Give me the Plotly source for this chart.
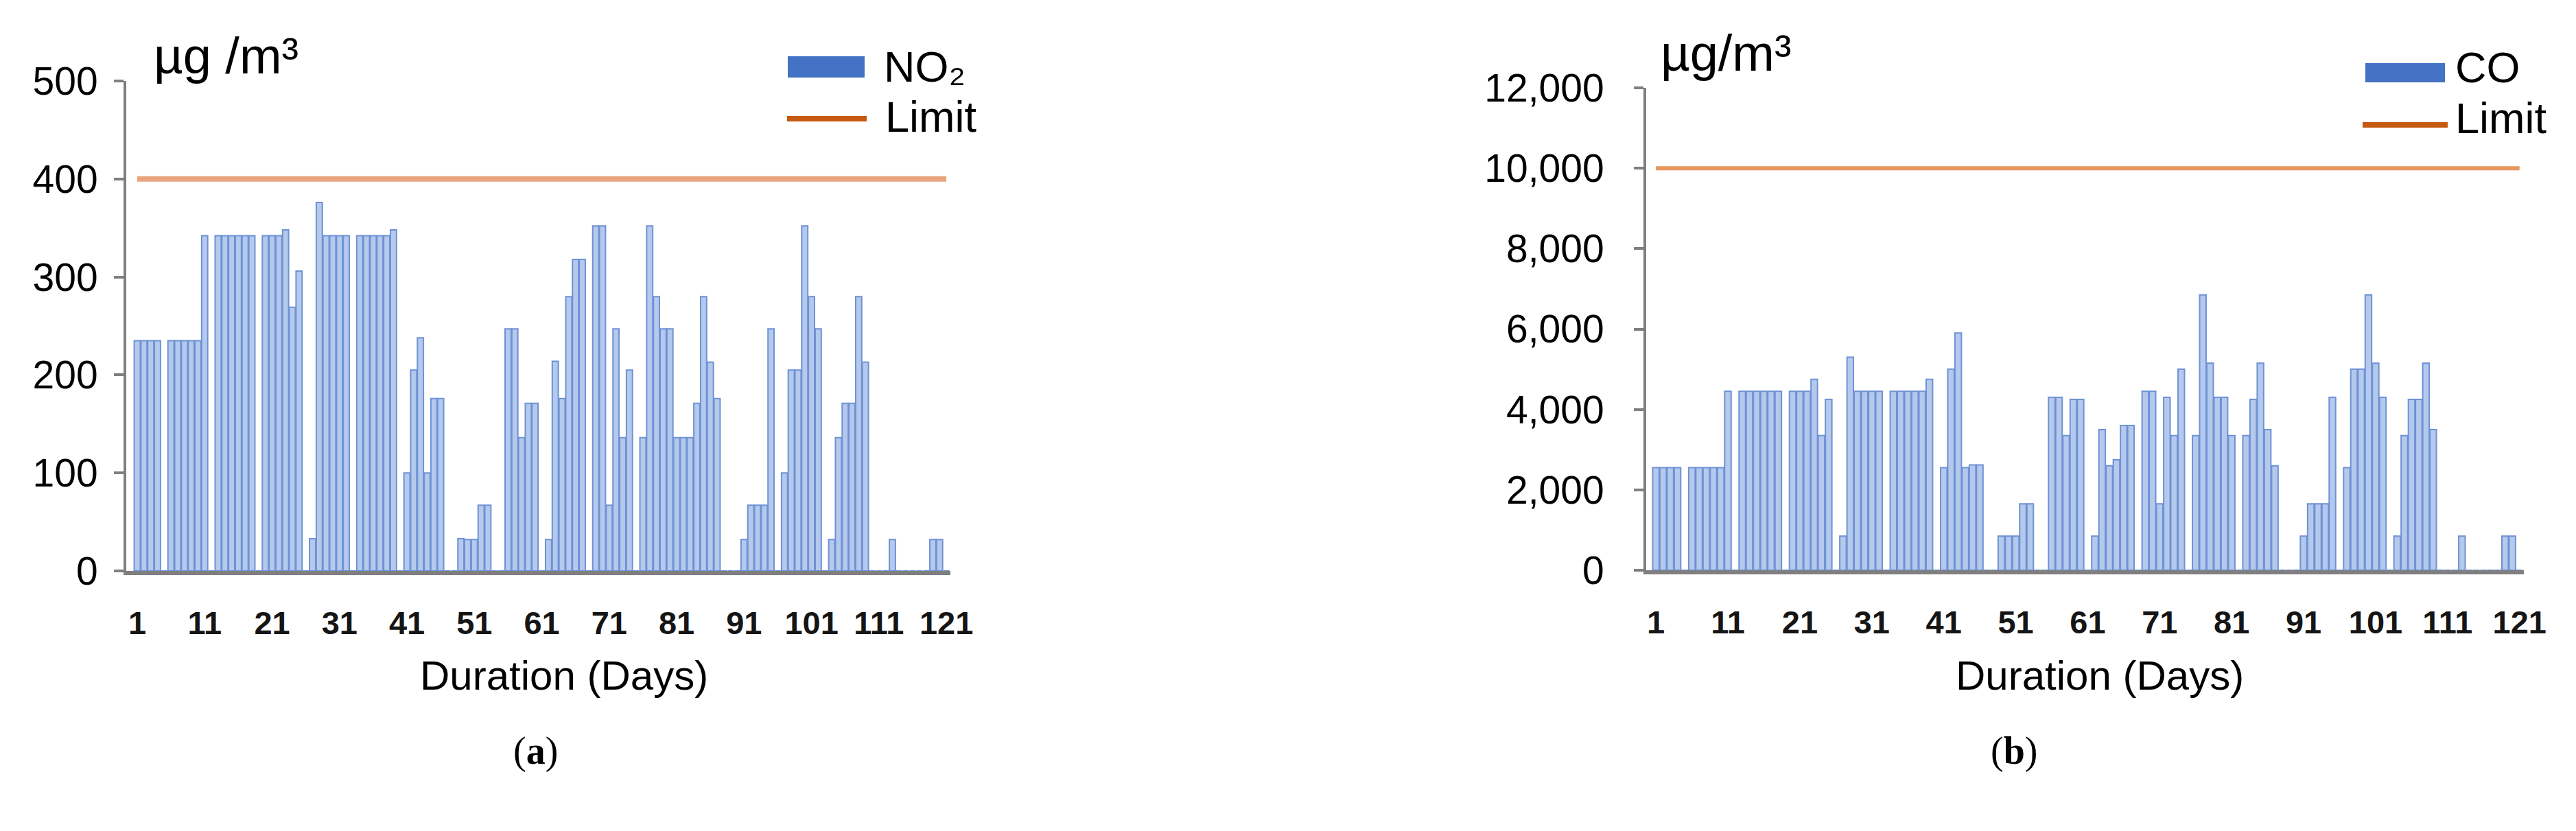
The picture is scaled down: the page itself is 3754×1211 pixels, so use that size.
import plotly.graph_objects as go

# ---------------- data ----------------
days = list(range(1, 122))

no2 = [
    235, 235, 235, 235, 0, 235, 235, 235, 235, 235,
    342, 0, 342, 342, 342, 342, 342, 342, 0, 342,
    342, 342, 348, 269, 306, 0, 33, 376, 342, 342,
    342, 342, 0, 342, 342, 342, 342, 342, 348, 0,
    100, 205, 238, 100, 176, 176, 0, 0, 33, 32,
    32, 67, 67, 0, 0, 247, 247, 136, 171, 171,
    0, 32, 214, 176, 280, 318, 318, 0, 352, 352,
    67, 247, 136, 205, 0, 136, 352, 280, 247, 247,
    136, 136, 136, 171, 280, 213, 176, 0, 0, 0,
    32, 67, 67, 67, 247, 0, 100, 205, 205, 352,
    280, 247, 0, 32, 136, 171, 171, 280, 213, 0,
    0, 0, 32, 0, 0, 0, 0, 0, 32, 32, 0,
]

co = [
    2550, 2550, 2550, 2550, 0, 2550, 2550, 2550, 2550, 2550,
    4450, 0, 4450, 4450, 4450, 4450, 4450, 4450, 0, 4450,
    4450, 4450, 4750, 3350, 4250, 0, 850, 5300, 4450, 4450,
    4450, 4450, 0, 4450, 4450, 4450, 4450, 4450, 4750, 0,
    2550, 5000, 5900, 2550, 2620, 2620, 0, 0, 850, 850,
    850, 1650, 1650, 0, 0, 4300, 4300, 3350, 4250, 4250,
    0, 850, 3500, 2600, 2750, 3600, 3600, 0, 4450, 4450,
    1650, 4300, 3350, 5000, 0, 3350, 6850, 5150, 4300, 4300,
    3350, 0, 3350, 4250, 5150, 3500, 2600, 0, 0, 0,
    850, 1650, 1650, 1650, 4300, 0, 2550, 5000, 5000, 6850,
    5150, 4300, 0, 850, 3350, 4250, 4250, 5150, 3500, 0,
    0, 0, 850, 0, 0, 0, 0, 0, 850, 850, 0,
]

no2_limit = 400
co_limit = 10000

x_tick_vals = list(range(1, 122, 10))
x_tick_text = [str(v) for v in x_tick_vals]
no2_yticks = [0, 100, 200, 300, 400, 500]
co_yticks = [0, 2000, 4000, 6000, 8000, 10000, 12000]
co_yticklabels = ["0", "2,000", "4,000", "6,000", "8,000", "10,000", "12,000"]

# ---------------- layout helpers ----------------
# page has an 8px body margin: lay the figure out in target (screen) pixels
OFF = 8
W, H = 3754 - 2 * OFF, 1211 - 2 * OFF


def px(x):
    return (x - OFF) / W


def py(y):
    return 1 - (y - OFF) / H


BAR_FILL = "#B5C9EC"
BAR_EDGE = "#6E92D5"
SANS = "Liberation Sans, Arial, sans-serif"
SERIF = "Liberation Serif, Times New Roman, serif"

fig = go.Figure()

# NO2 chart
fig.add_trace(go.Bar(
    x=days, y=no2, xaxis="x", yaxis="y", name="NO2", width=0.9,
    marker=dict(color=BAR_FILL, line=dict(color=BAR_EDGE, width=2)),
    showlegend=False, hoverinfo="x+y",
))
fig.add_trace(go.Scatter(
    x=days, y=[no2_limit] * len(days), xaxis="x", yaxis="y", name="Limit",
    mode="lines", line=dict(color="#E9A67E", width=8), showlegend=False,
))

# CO chart
fig.add_trace(go.Bar(
    x=days, y=co, xaxis="x2", yaxis="y2", name="CO", width=0.9,
    marker=dict(color=BAR_FILL, line=dict(color=BAR_EDGE, width=2)),
    showlegend=False, hoverinfo="x+y",
))
fig.add_trace(go.Scatter(
    x=days, y=[co_limit] * len(days), xaxis="x2", yaxis="y2", name="Limit",
    mode="lines", line=dict(color="#E6975F", width=6), showlegend=False,
))

xaxis_common = dict(
    tickmode="array", tickvals=x_tick_vals, ticktext=x_tick_text,
    ticks="", showline=True, linecolor="#7F7F7F", linewidth=6,
    showgrid=False, zeroline=False, automargin=False, tickangle=0,
    tickfont=dict(family=SANS, size=47, color="#151515", weight="bold"),
    ticklabelstandoff=30,
)
yaxis_common = dict(
    ticks="outside", ticklen=14, tickwidth=4, tickcolor="#7F7F7F",
    showline=True, linecolor="#7F7F7F", linewidth=4,
    showgrid=False, zeroline=False, automargin=False,
    tickfont=dict(family=SANS, size=57, color="#000000"),
)

fig.update_layout(
    width=W, height=H, autosize=False,
    margin=dict(l=0, r=0, t=0, b=0, pad=0),
    paper_bgcolor="white", plot_bgcolor="white",
    xaxis=dict(domain=[px(184), px(1385)], range=[-0.63, 121.6], anchor="y",
               **xaxis_common),
    yaxis=dict(domain=[py(832), py(118)], range=[0, 500], anchor="x",
               tickvals=no2_yticks, ticklabelstandoff=12, **yaxis_common),
    xaxis2=dict(domain=[px(2399), px(3678)], range=[-0.35, 121.6], anchor="y2",
                **xaxis_common),
    yaxis2=dict(domain=[py(831), py(128)], range=[0, 12000], anchor="x2",
                tickvals=co_yticks, ticktext=co_yticklabels,
                ticklabelstandoff=32, **yaxis_common),
)

# legend-like swatches (decorations)
shapes = [
    dict(type="rect", xref="paper", yref="paper",
         x0=px(1148), x1=px(1260), y0=py(113), y1=py(82),
         fillcolor="#4472C4", line=dict(width=0)),
    dict(type="line", xref="paper", yref="paper",
         x0=px(1147), x1=px(1263), y0=py(173), y1=py(173),
         line=dict(color="#C55A11", width=8)),
    dict(type="rect", xref="paper", yref="paper",
         x0=px(3447), x1=px(3563), y0=py(120), y1=py(92),
         fillcolor="#4472C4", line=dict(width=0)),
    dict(type="line", xref="paper", yref="paper",
         x0=px(3443), x1=px(3567), y0=py(182), y1=py(182),
         line=dict(color="#C55A11", width=8)),
]
fig.update_layout(shapes=shapes)


def ann(text, x, y, size, family=SANS, xanchor="left", color="#000000"):
    fig.add_annotation(text=text, x=px(x), y=py(y), xref="paper", yref="paper",
                       xanchor=xanchor, yanchor="middle", showarrow=False,
                       font=dict(family=family, size=size, color=color))


# unit labels
ann("µg /m³", 222, 82, 74)
ann("µg/m³", 2418, 77, 74)
# legend texts
ann("NO₂", 1286, 97, 63)
ann("Limit", 1288, 170, 63)
ann("CO", 3576, 98, 63)
ann("Limit", 3576, 172, 63)
# axis titles
ann("Duration (Days)", 822, 984, 60, xanchor="center")
ann("Duration (Days)", 3060, 984, 60, xanchor="center")
# panel labels
ann("(<b>a</b>)", 780, 1094, 56, family=SERIF, xanchor="center")
ann("(<b>b</b>)", 2935, 1094, 56, family=SERIF, xanchor="center")

fig.write_html("out.html")
